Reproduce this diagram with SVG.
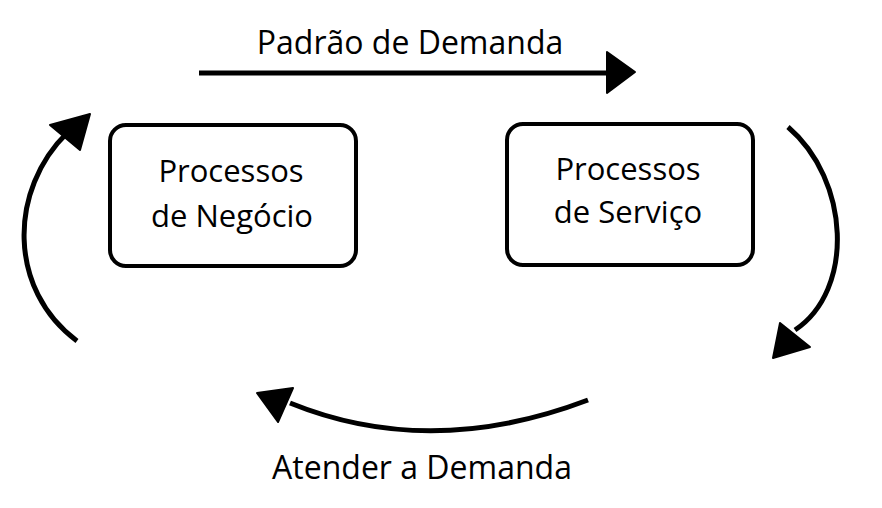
<svg xmlns="http://www.w3.org/2000/svg" width="882" height="508" viewBox="0 0 882 508">
<style>
.box{fill:#fff;stroke:#000;stroke-width:4}
.t{font-family:"Open Sans","Noto Sans",sans-serif;font-size:31px;fill:#000;text-anchor:middle}
.l{font-size:32px}
.c{fill:none;stroke:#000;stroke-width:5;stroke-linecap:butt}
.h{fill:#000;stroke:#000;stroke-width:2;stroke-linejoin:round}
</style>
<rect width="882" height="508" fill="#fff"/>
<g id="labels">
<text class="t l" x="410" y="54">Padrão de Demanda</text>
<text class="t l" x="422" y="479">Atender a Demanda</text>
</g>
<g id="node-negocio">
<rect class="box" x="110" y="125" width="246" height="141" rx="16"/>
<text class="t" x="231" y="182">Processos</text>
<text class="t" x="232" y="227">de Negócio</text>
</g>
<g id="node-servico">
<rect class="box" x="507" y="124" width="246" height="141" rx="16"/>
<text class="t" x="628" y="180">Processos</text>
<text class="t" x="628" y="223">de Serviço</text>
</g>
<g id="connectors">
<path class="c" d="M199,73 L612,73"/>
<polygon class="h" points="607,52 635,72 607,93"/>
<path class="c" d="M788,127 C850,180 855,290 795,330"/>
<polygon class="h" points="780,323 810,347 773,358"/>
<path class="c" d="M588,400 Q430,460 290,403"/>
<polygon class="h" points="257,393 293,388 278,422"/>
<path class="c" d="M77,341 C8,290 8,190 68,132"/>
<polygon class="h" points="50,125 90,114 80,150"/>
</g>
</svg>
